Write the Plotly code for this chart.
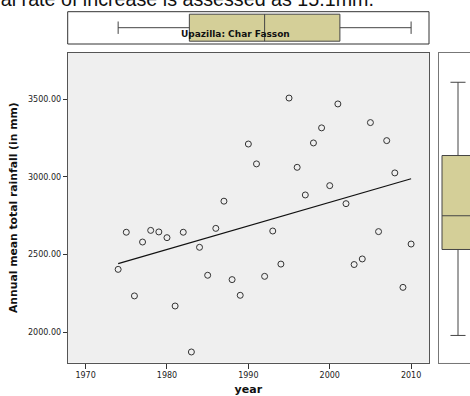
import numpy as np
import plotly.graph_objects as go

# ---------------------------------------------------------------------------
# Data (annual mean total rainfall, Char Fasson)
# ---------------------------------------------------------------------------

YEARS = list(range(1974, 2011))
RAINFALL_MM = [
    2405, 2644, 2234, 2581, 2656, 2646, 2609, 2169, 2644, 1873,  # 1974-1983
    2547, 2367, 2669, 2844, 2339, 2238, 3212, 3084, 2360, 2652,  # 1984-1993
    2439, 3508, 3062, 2884, 3219, 3316, 2944, 3470, 2828, 2436,  # 1994-2003
    2472, 3350, 2648, 3234, 3026, 2289, 2568,                    # 2004-2010
]
X_TICKS = [1970, 1980, 1990, 2000, 2010]
Y_TICKS = [2000, 2500, 3000, 3500]
PANEL_LABEL = "Upazilla: Char Fasson"
CAPTION = "annual rate of increase is assessed as 15.1mm."

COLORS = {
    "plot_bg": "#efefef",
    "box_fill": "#d4cf98",
    "frame": "#555555",
    "text": "#222222",
    "marker": "#333333",
}

W, H = 470, 396


def px_x(p):
    return p / W


def px_y(p):
    return 1 - p / H


slope, intercept = np.polyfit(YEARS, RAINFALL_MM, 1)
fit_x = [YEARS[0], YEARS[-1]]
fit_y = [intercept + slope * x for x in fit_x]

fig = go.Figure()

# Scatter of yearly values
fig.add_trace(go.Scatter(
    x=YEARS, y=RAINFALL_MM, mode="markers",
    marker=dict(symbol="circle-open", size=6, color=COLORS["marker"], line=dict(width=1)),
    xaxis="x", yaxis="y", showlegend=False,
))

# Linear fit line
fig.add_trace(go.Scatter(
    x=fit_x, y=fit_y, mode="lines",
    line=dict(color="#111111", width=1.2),
    xaxis="x", yaxis="y", showlegend=False,
))

# Marginal boxplot of years (top)
fig.add_trace(go.Box(
    x=YEARS, y0=0, orientation="h", width=27, whiskerwidth=0.46,
    fillcolor=COLORS["box_fill"], line=dict(color="#444444", width=1),
    boxpoints=False, xaxis="x", yaxis="y2", showlegend=False, hoverinfo="skip",
))

# Marginal boxplot of rainfall (right)
fig.add_trace(go.Box(
    y=RAINFALL_MM, x0=0, width=32, whiskerwidth=0.47,
    fillcolor=COLORS["box_fill"], line=dict(color="#444444", width=1),
    boxpoints=False, xaxis="x3", yaxis="y3", showlegend=False, hoverinfo="skip",
))

tick_font = dict(family="DejaVu Sans", size=8, color=COLORS["text"])

fig.update_layout(
    width=W, height=H,
    margin=dict(l=0, r=0, t=0, b=0),
    paper_bgcolor="white",
    plot_bgcolor=COLORS["plot_bg"],
    xaxis=dict(
        domain=[px_x(67.7), px_x(429)], range=[1967.8, 2012.2],
        tickvals=X_TICKS, ticks="outside", ticklen=5, tickcolor="#333",
        tickfont=tick_font, showgrid=False, zeroline=False, automargin=False,
        showline=True, linecolor=COLORS["frame"], mirror=True,
        title=dict(text="<b>year</b>", font=dict(family="DejaVu Sans", size=11, color="#111"), standoff=14),
        anchor="y",
    ),
    yaxis=dict(
        domain=[px_y(362.7), px_y(52.7)], range=[1804, 3800],
        tickvals=Y_TICKS, tickformat=".2f", ticks="outside", ticklen=4, tickcolor="#333",
        tickfont=tick_font, showgrid=False, zeroline=False, automargin=False,
        showline=True, linecolor=COLORS["frame"], mirror=True,
        title=dict(text="<b>Annual mean total rainfall (in mm)</b>",
                   font=dict(family="DejaVu Sans", size=10.8, color="#111"), standoff=8),
        anchor="x",
    ),
    yaxis2=dict(
        domain=[px_y(44), px_y(11.7)], range=[-16.3, 16],
        showticklabels=False, ticks="", showgrid=False, zeroline=False,
        showline=False, anchor="x",
    ),
    xaxis3=dict(
        domain=[px_x(438.7), 1], range=[-19.3, 12],
        showticklabels=False, ticks="", showgrid=False, zeroline=False,
        showline=True, linecolor="#777777", mirror=True, anchor="y3",
    ),
    yaxis3=dict(
        domain=[px_y(362.7), px_y(52.7)], range=[1697, 3699],
        showticklabels=False, ticks="", showgrid=False, zeroline=False,
        showline=True, linecolor="#777777", mirror=False, anchor="x3",
    ),
    annotations=[
        dict(
            text="<b>%s</b>" % PANEL_LABEL, x=px_x(235), y=px_y(27.5),
            xref="paper", yref="paper", showarrow=False,
            font=dict(family="DejaVu Sans", size=9, color="#111"),
        ),
        dict(
            text=CAPTION, x=px_x(376), y=px_y(-1), xanchor="right", yanchor="middle",
            xref="paper", yref="paper", showarrow=False,
            font=dict(family="Liberation Sans", size=19.7, color="#111"),
        ),
    ],
)

# Marginal panels have white backgrounds, only the scatter is grey
fig.add_shape(type="rect", xref="x3 domain", yref="y3 domain", x0=0, x1=1, y0=0, y1=1,
              fillcolor="white", line=dict(width=0), layer="below")
fig.add_shape(type="rect", xref="x domain", yref="y2 domain", x0=0, x1=1, y0=0, y1=1,
              fillcolor="white", line=dict(color="#333333", width=1), layer="below")

# drop the default body margin so the figure sits at the window's corner
fig.write_html(
    "out.html",
    config={"displayModeBar": False},
    post_script="document.body.style.margin='0px';",
)
